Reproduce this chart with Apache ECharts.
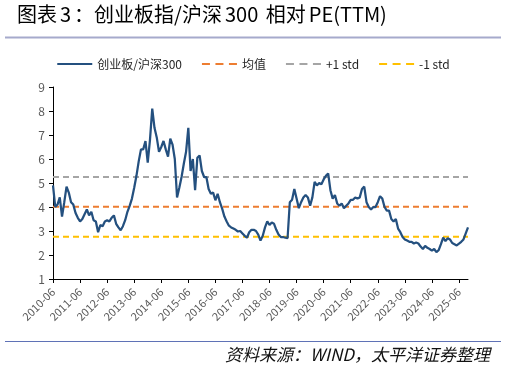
<!DOCTYPE html>
<html>
<head>
<meta charset="utf-8">
<script src="https://cdn.jsdelivr.net/npm/echarts@6/dist/echarts.min.js"></script>
<style>
html,body{margin:0;padding:0;background:#fff;}
#chart{width:507px;height:368px;}
</style>
</head>
<body>
<div id="chart"></div>
<script>
// Monthly categories 2010-06 .. 2025-10
const startYear = 2010, startMonth = 6, monthCount = 185;
const categories = [];
for (let i = 0; i < monthCount; i++) {
  const mm = startMonth - 1 + i;
  const y = startYear + Math.floor(mm / 12);
  const m = (mm % 12) + 1;
  categories.push(y + '-' + (m < 10 ? '0' + m : m));
}

// 创业板/沪深300 relative PE (one value per month)
const ratioValues = [
  4.9, 4.0, 4.1, 4.4, 3.6, 4.2, 4.85, 4.6, 4.2, 4.1, 3.75, 3.55,
  3.4, 3.5, 3.7, 3.9, 3.65, 3.8, 3.45, 3.4, 2.95, 3.25, 3.2, 3.4,
  3.45, 3.4, 3.55, 3.65, 3.3, 3.15, 3.03, 3.2, 3.45, 3.8, 4.05, 4.35,
  4.8, 5.3, 5.9, 6.4, 6.4, 6.75, 5.85, 6.8, 8.1, 7.3, 6.9, 6.3,
  6.5, 6.75, 6.4, 6.1, 6.85, 6.6, 6.0, 4.4, 4.8, 5.25, 5.8, 6.3,
  7.3, 5.5, 6.0, 4.7, 6.05, 6.15, 5.5, 5.25, 5.25, 4.75, 4.55, 4.6,
  4.28, 4.55, 4.2, 3.93, 3.6, 3.4, 3.22, 3.15, 3.1, 3.05, 2.98, 3.0,
  2.9, 2.8, 2.72, 2.95, 3.05, 3.05, 3.0, 2.85, 2.6, 2.8, 3.15, 3.4,
  3.25, 3.35, 3.3, 3.05, 2.85, 2.75, 2.75, 2.72, 2.7, 4.2, 4.3, 4.75,
  4.35, 3.95, 4.2, 4.4, 4.5, 4.4, 4.05, 4.4, 5.05, 4.9, 5.0, 4.95,
  5.15, 5.3, 5.4, 4.7, 4.35, 4.5, 4.15, 4.05, 4.15, 3.95, 4.05, 4.15,
  4.3, 4.3, 4.4, 4.35, 4.4, 4.75, 4.85, 4.2, 4.0, 3.9, 4.0, 4.0,
  4.2, 4.45, 4.35, 4.0, 3.85, 3.85, 3.5, 3.4, 3.5, 3.1, 2.95, 2.75,
  2.65, 2.6, 2.55, 2.55, 2.48, 2.52, 2.48, 2.35, 2.25, 2.38, 2.3, 2.25,
  2.18, 2.25, 2.12, 2.2, 2.45, 2.72, 2.58, 2.7, 2.65, 2.5, 2.45, 2.4,
  2.47, 2.55, 2.65, 2.9, 3.15
];

// Reference levels
const meanValue = 4.01;
const plusStd = 5.25;
const minusStd = 2.76;

const seriesNames = ['创业板/沪深300', '均值', '+1 std', '-1 std'];
const yTicks = [1, 2, 3, 4, 5, 6, 7, 8, 9];

const first = categories[0], last = categories[categories.length - 1];
function flat(v) { return [[first, v], [last, v]]; }

const chart = echarts.init(document.getElementById('chart'), null, {renderer: 'canvas'});
const font = "'Noto Sans CJK SC', 'DejaVu Sans', sans-serif";
const solidIcon = 'path://M0,0H35V2H0Z';
const dashIcon = 'path://M0,0H8V2H0Z M13.5,0H21.5V2H13.5Z M27,0H35V2H27Z';
const titleColor = '#2F4F86';
const tf = "'Noto Sans CJK SC', sans-serif";

chart.setOption({
  backgroundColor: '#ffffff',
  animation: false,
  textStyle: {fontFamily: font},
  graphic: [
    {type: 'text', left: 17, top: 4, style: {
      text: '{a|图表}{b|3}{a|：创业板指/沪深}{b|300}{a| 相对}{b|PE(TTM)}',
      rich: {
        a: {fontSize: 20, fontFamily: tf, color: titleColor},
        b: {fontSize: 20, fontFamily: tf, color: titleColor, padding: [0, 3, 0, 3]}
      }
    }},
    {type: 'line', shape: {x1: 5, y1: 37.5, x2: 501, y2: 37.5}, style: {stroke: '#A6AACC', lineWidth: 2}},
    {type: 'line', shape: {x1: 5, y1: 341.5, x2: 501, y2: 341.5}, style: {stroke: '#5F72B6', lineWidth: 1}},
    {type: 'text', right: 17, top: 346, style: {text: '资料来源：WIND，太平洋证券整理', font: "italic 17px 'Noto Sans CJK SC', sans-serif", fill: '#111111'}}
  ],
  legend: {
    top: 53, left: 'center',
    itemWidth: 35, itemHeight: 2.5, itemGap: 20,
    textStyle: {fontSize: 12, color: '#262626', fontFamily: font},
    data: [
      {name: seriesNames[0], icon: solidIcon},
      {name: seriesNames[1], icon: dashIcon},
      {name: seriesNames[2], icon: dashIcon},
      {name: seriesNames[3], icon: dashIcon}
    ]
  },
  grid: {left: 53, right: 39, top: 87, bottom: 89, containLabel: false},
  xAxis: {
    type: 'category',
    data: categories,
    boundaryGap: false,
    axisLine: {lineStyle: {color: '#000000', width: 1}},
    axisTick: {show: true, interval: 11, length: 4, inside: false, lineStyle: {color: '#000'}},
    axisLabel: {interval: 11, rotate: 45, fontSize: 11, color: '#595959', margin: 11, fontFamily: font},
    splitLine: {show: false}
  },
  yAxis: {
    type: 'value',
    min: yTicks[0], max: yTicks[yTicks.length - 1], interval: 1,
    axisLine: {show: true, lineStyle: {color: '#000000', width: 1}},
    axisTick: {show: true, length: 4, lineStyle: {color: '#000'}},
    axisLabel: {fontSize: 12, color: '#595959', margin: 8, fontFamily: font},
    splitLine: {show: false}
  },
  series: [
    {name: seriesNames[0], type: 'line', data: ratioValues, symbol: 'none', z: 5,
     lineStyle: {color: '#24507F', width: 2.25}, itemStyle: {color: '#24507F'}},
    {name: seriesNames[1], type: 'line', data: flat(meanValue), symbol: 'none', z: 3,
     lineStyle: {color: '#ED7D31', width: 2, type: [6, 4]}, itemStyle: {color: '#ED7D31'}},
    {name: seriesNames[2], type: 'line', data: flat(plusStd), symbol: 'none', z: 3,
     lineStyle: {color: '#A5A5A5', width: 2, type: [6, 4]}, itemStyle: {color: '#A5A5A5'}},
    {name: seriesNames[3], type: 'line', data: flat(minusStd), symbol: 'none', z: 3,
     lineStyle: {color: '#FFC000', width: 2, type: [6, 4]}, itemStyle: {color: '#FFC000'}}
  ]
});
</script>
</body>
</html>
